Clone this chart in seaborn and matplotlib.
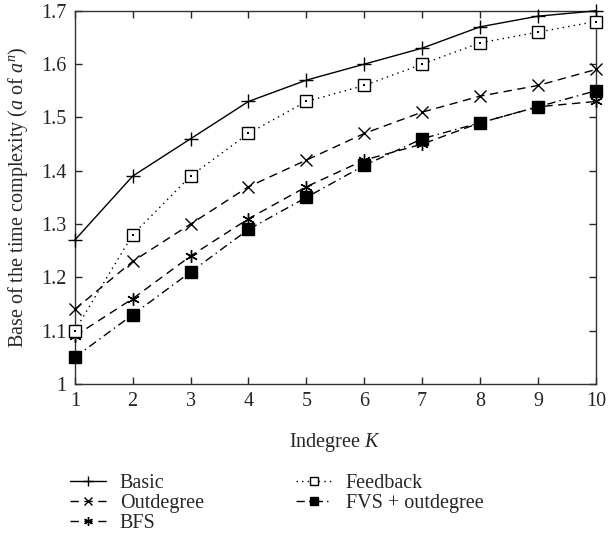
import matplotlib
matplotlib.use("Agg")
import matplotlib.pyplot as plt
import seaborn as sns
import pandas as pd

K = [1, 2, 3, 4, 5, 6, 7, 8, 9, 10]
basic = [1.27, 1.39, 1.46, 1.53, 1.57, 1.60, 1.63, 1.67, 1.69, 1.70]
feedback = [1.10, 1.28, 1.39, 1.47, 1.53, 1.56, 1.60, 1.64, 1.66, 1.68]
outdegree = [1.14, 1.23, 1.30, 1.37, 1.42, 1.47, 1.51, 1.54, 1.56, 1.59]
bfs = [1.09, 1.16, 1.24, 1.31, 1.37, 1.42, 1.45, 1.49, 1.52, 1.53]
fvs = [1.05, 1.13, 1.21, 1.29, 1.35, 1.41, 1.46, 1.49, 1.52, 1.55]
yticks = [1, 1.1, 1.2, 1.3, 1.4, 1.5, 1.6, 1.7]
ytick_labels = ["1", "1.1", "1.2", "1.3", "1.4", "1.5", "1.6", "1.7"]

sns.set_style("ticks")
plt.rcParams['font.family'] = ['Liberation Serif', 'DejaVu Serif']
plt.rcParams['mathtext.fontset'] = 'custom'
plt.rcParams['mathtext.rm'] = 'Liberation Serif'
plt.rcParams['mathtext.it'] = 'Liberation Serif:italic'

fig = plt.figure(figsize=(6.08, 5.42), dpi=100)
ax = fig.add_axes([0.123, 0.2915, 0.857, 0.6885])

series = [
    ("Basic", basic, "-", "+", "black", 10),
    ("Outdegree", outdegree, (0, (6, 4)), "x", "black", 8),
    ("BFS", bfs, (0, (6, 4)), (6, 2, 0), "black", 9),
    ("Feedback", feedback, (0, (1, 3)), "s", "white", 8),
    ("FVS + outdegree", fvs, (0, (6, 3, 1, 3)), "s", "black", 8),
]
for name, vals, ls, mk, mfc, ms in series:
    df = pd.DataFrame({"K": K, "v": vals})
    sns.lineplot(data=df, x="K", y="v", ax=ax, color="black", linestyle=ls,
                 linewidth=1.0, marker=mk, markersize=ms, markerfacecolor=mfc,
                 markeredgecolor="black", markeredgewidth=1.0, label=name,
                 clip_on=False, zorder=3)
    if name == "Feedback":
        sns.scatterplot(x=K, y=vals, ax=ax, color="black", s=1.5, marker="s",
                        linewidth=0, legend=False, clip_on=False, zorder=4)

ax.set_xlim(1, 10)
ax.set_ylim(1, 1.7)
ax.set_xticks(K)
ax.set_yticks(yticks)
ax.set_yticklabels(ytick_labels)
ax.tick_params(direction="in", top=True, right=True, length=5, width=1,
               labelsize=14.5, pad=6)
for s in ax.spines.values():
    s.set_linewidth(1.0)
    s.set_color("#333333")
ax.set_xlabel(r"Indegree $K$", fontsize=14.5, labelpad=14)
ax.set_ylabel(r"Base of the time complexity ($a$ of $a^n$)", fontsize=14.5, labelpad=8)

h, l = ax.get_legend_handles_labels()
leg = ax.legend(h, l, ncol=2, frameon=False, fontsize=14.5,
                loc="upper left", bbox_to_anchor=(-0.024, -0.22),
                handlelength=1.75, handletextpad=0.7, columnspacing=4.6,
                labelspacing=0.05, borderaxespad=0, markerscale=0.7)

fig.savefig("out.png", dpi=100, facecolor="white")
